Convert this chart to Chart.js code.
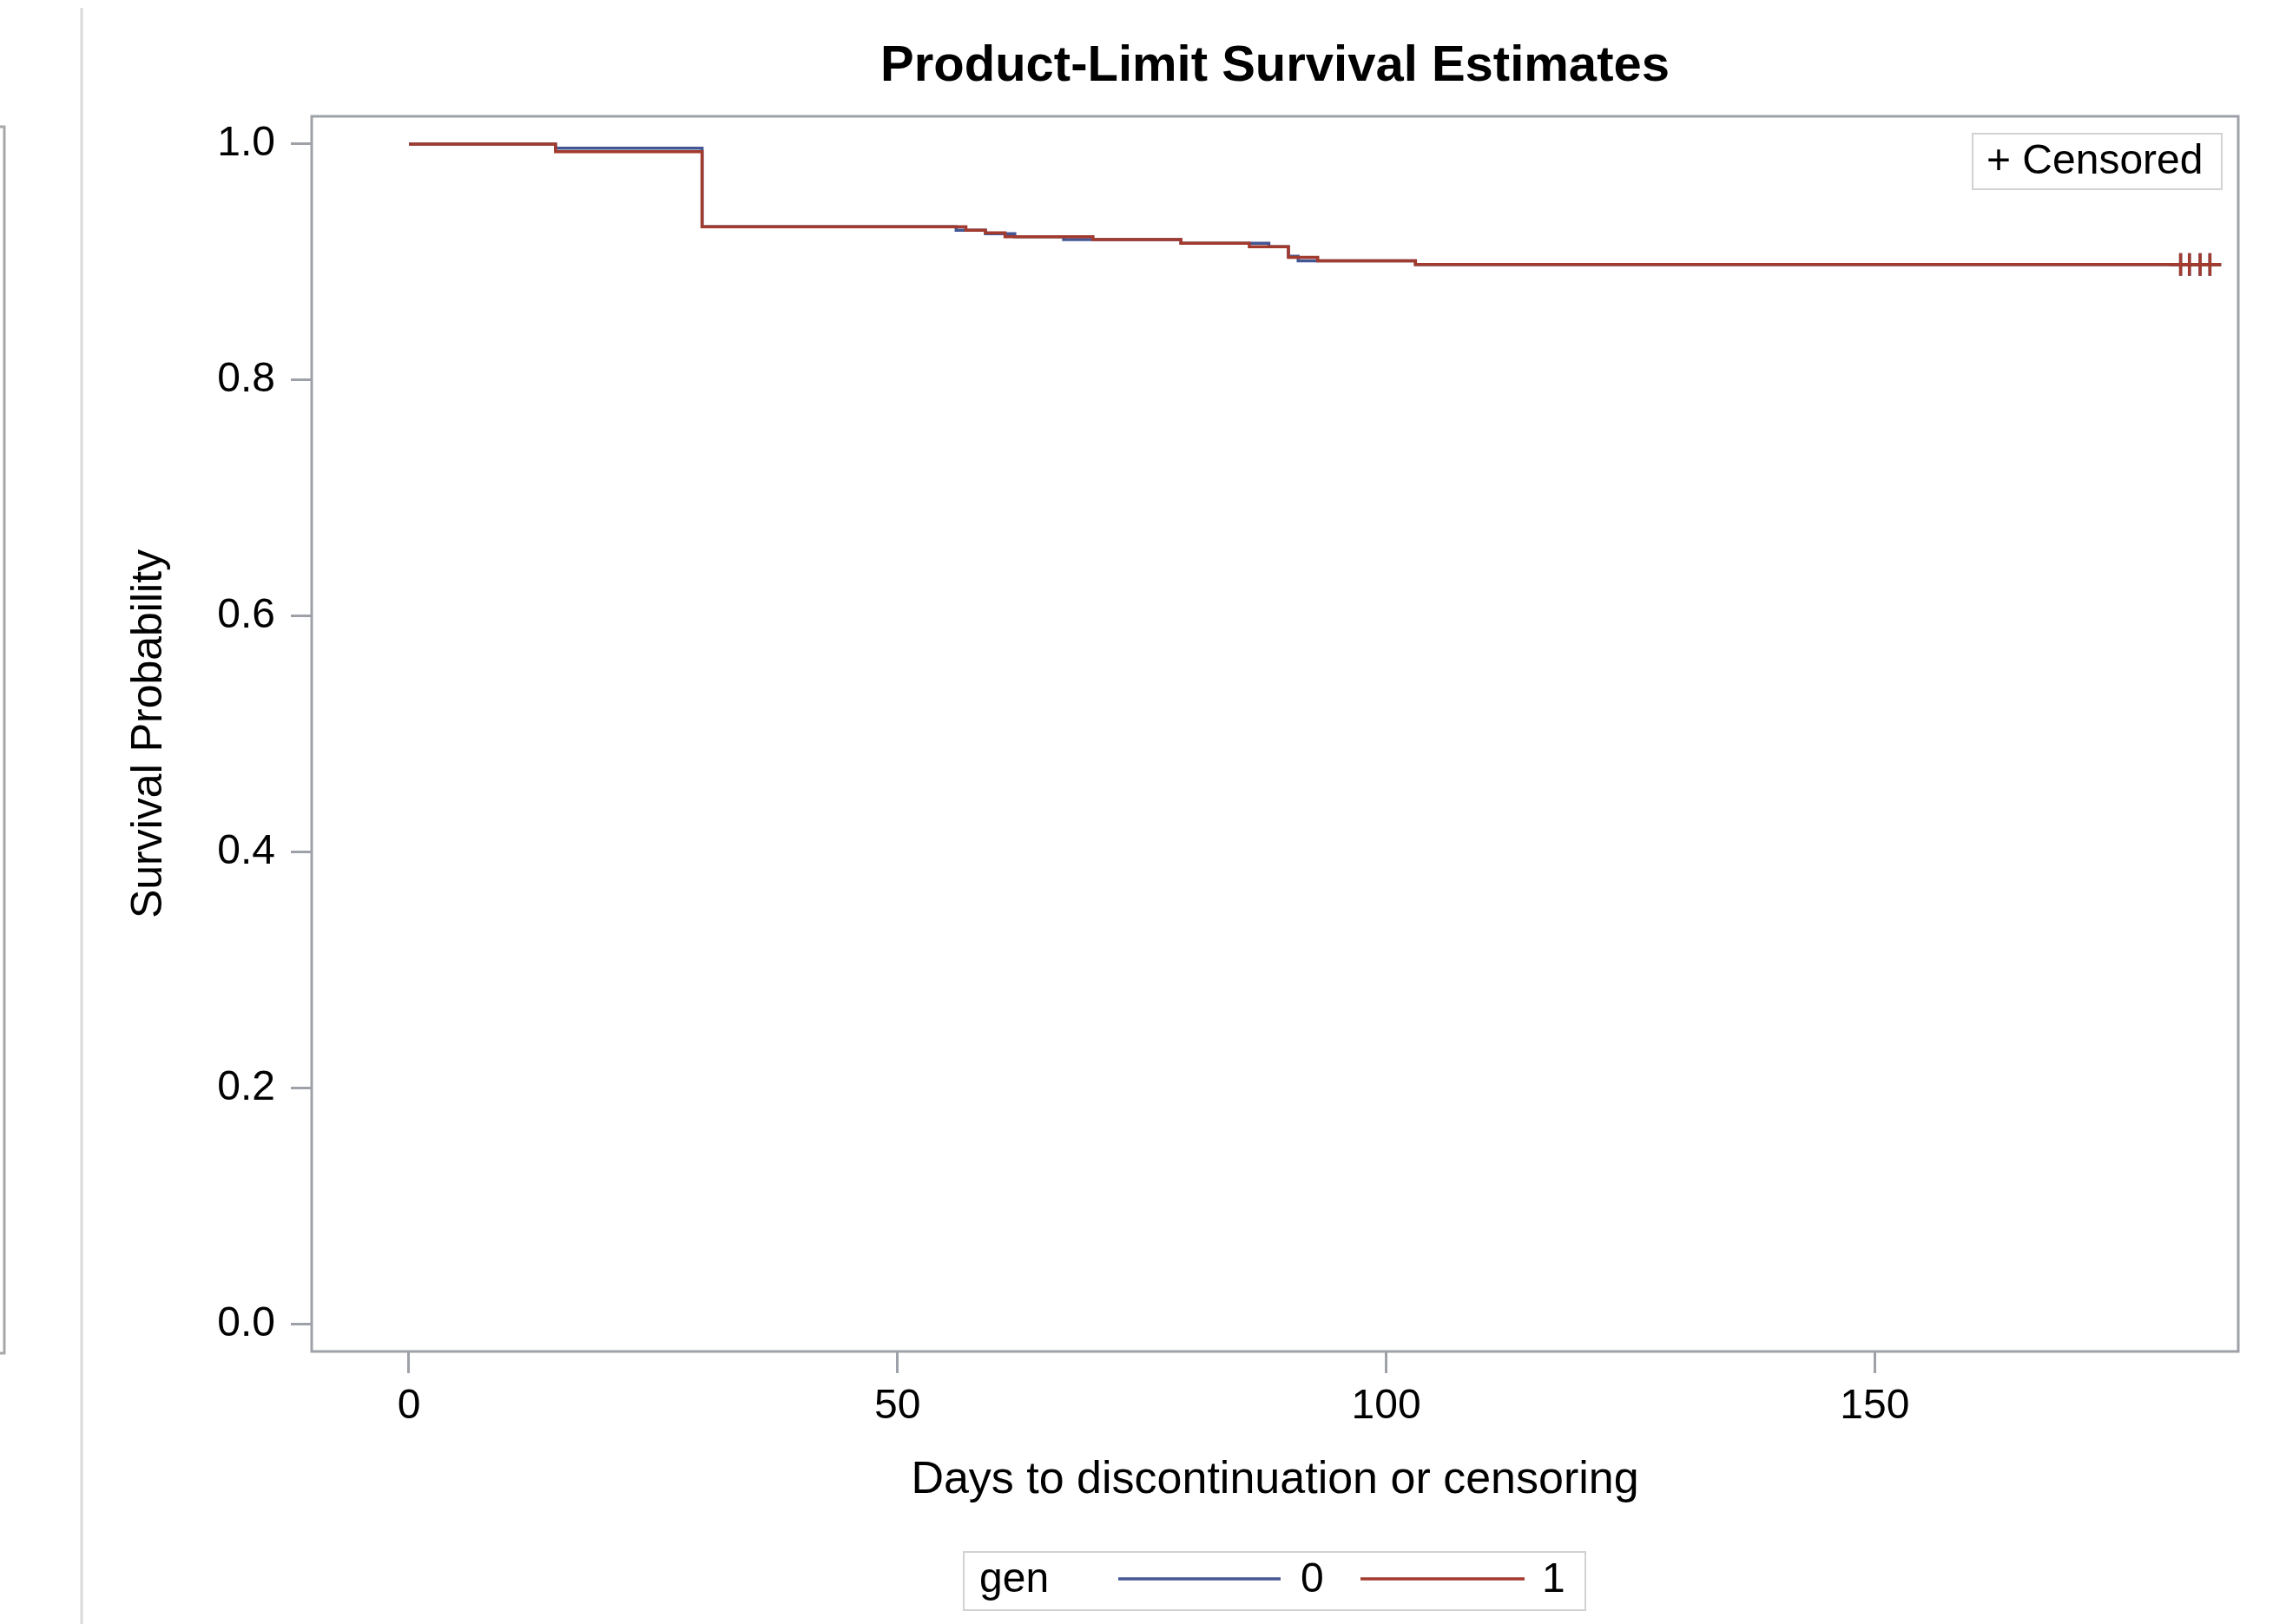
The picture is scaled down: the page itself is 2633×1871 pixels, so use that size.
<!DOCTYPE html>
<html>
<head>
<meta charset="utf-8">
<script src="https://cdn.jsdelivr.net/npm/chart.js@4.4.1/dist/chart.umd.min.js"></script>
<style>
  body { margin: 0; background: #fff; }
  #wrap { width: 2633px; height: 1871px; }
</style>
</head>
<body>
<div id="wrap"><canvas id="kmChart" width="2633" height="1871"></canvas></div>
<script>
// Kaplan-Meier step values (days, survival)
const groupNames = ['0', '1'];
const days0 = [0, 15, 30, 56, 59, 62, 67, 79, 88, 90, 91, 103, 185.4];
const surv0 = [1.0, 0.9965, 0.930, 0.927, 0.924, 0.9215, 0.919, 0.916, 0.913, 0.905, 0.901, 0.898, 0.898];
const days1 = [0, 15, 30, 57, 59, 61, 70, 79, 86, 90, 93, 103, 185.4];
const surv1 = [1.0, 0.9935, 0.930, 0.927, 0.9247, 0.9215, 0.919, 0.916, 0.913, 0.904, 0.901, 0.898, 0.898];
const censorDays = [181.3, 182.2, 183.3, 184.3];
const censorSurv = [0.898, 0.898, 0.898, 0.898];
const xTicks = [0, 50, 100, 150];
const yTicks = [0.0, 0.2, 0.4, 0.6, 0.8, 1.0];

const blue = '#445694';
const red = '#a23a2e';
const axisGray = '#9ea2a8';
const boxGray = '#d2d2d2';
const fontFamily = "'Liberation Sans', Arial, sans-serif";

function pts(xs, ys) {
    return xs.map((x, i) => ({ x: x, y: ys[i] }));
}

// frame, title, side decorations and the two legends
const kmDecor = {
    id: 'kmDecor',
    beforeDraw(chart) {
        const ctx = chart.ctx;
        ctx.save();
        ctx.fillStyle = '#fff';
        ctx.fillRect(0, 0, chart.width, chart.height);
        // left panel leftovers
        ctx.strokeStyle = '#dadada';
        ctx.lineWidth = 3;
        ctx.beginPath();
        ctx.moveTo(94, 9);
        ctx.lineTo(94, chart.height);
        ctx.stroke();
        ctx.strokeStyle = '#a8a8a8';
        ctx.beginPath();
        ctx.moveTo(0, 146);
        ctx.lineTo(5, 146);
        ctx.lineTo(5, 1559);
        ctx.lineTo(0, 1559);
        ctx.stroke();
        ctx.restore();
    },
    afterDraw(chart) {
        const ctx = chart.ctx;
        const a = chart.chartArea;
        ctx.save();
        ctx.strokeStyle = axisGray;
        ctx.lineWidth = 3;
        ctx.strokeRect(a.left, a.top, a.right - a.left, a.bottom - a.top);

        // title, centred over the plot area
        ctx.fillStyle = '#000';
        ctx.textBaseline = 'middle';
        ctx.textAlign = 'center';
        ctx.font = 'bold 58px ' + fontFamily;
        ctx.fillText('Product-Limit Survival Estimates', (a.left + a.right) / 2, 77);

        ctx.font = '48px ' + fontFamily;
        ctx.textAlign = 'left';

        // censored legend, top right
        ctx.strokeStyle = boxGray;
        ctx.lineWidth = 2;
        ctx.strokeRect(2272, 154, 287, 64);
        ctx.fillText('+ Censored', 2288, 187);

        // group legend, bottom
        ctx.strokeRect(1110, 1788, 716, 67);
        ctx.fillText('gen', 1128, 1821);
        ctx.lineWidth = 3.5;
        ctx.strokeStyle = blue;
        ctx.beginPath();
        ctx.moveTo(1288, 1819);
        ctx.lineTo(1475, 1819);
        ctx.stroke();
        ctx.fillText(groupNames[0], 1498, 1821);
        ctx.strokeStyle = red;
        ctx.beginPath();
        ctx.moveTo(1567, 1819);
        ctx.lineTo(1756, 1819);
        ctx.stroke();
        ctx.fillText(groupNames[1], 1776, 1821);
        ctx.restore();
    }
};

const ctx = document.getElementById('kmChart').getContext('2d');
const kmChart = new Chart(ctx, {
    type: 'scatter',
    data: {
        datasets: [{
            label: 'censored 1',
            data: pts(censorDays, censorSurv),
            showLine: false,
            pointStyle: 'cross',
            pointRadius: 13,
            pointBorderWidth: 3.5,
            pointBorderColor: red,
            order: 0
        }, {
            label: groupNames[1],
            data: pts(days1, surv1),
            showLine: true,
            stepped: 'before',
            borderColor: red,
            borderWidth: 3.5,
            pointRadius: 0,
            order: 1
        }, {
            label: 'censored 0',
            data: pts(censorDays, censorSurv),
            showLine: false,
            pointStyle: 'cross',
            pointRadius: 13,
            pointBorderWidth: 3.5,
            pointBorderColor: blue,
            order: 2
        }, {
            label: groupNames[0],
            data: pts(days0, surv0),
            showLine: true,
            stepped: 'before',
            borderColor: blue,
            borderWidth: 3.5,
            pointRadius: 0,
            order: 3
        }]
    },
    options: {
        responsive: false,
        animation: false,
        layout: { padding: { left: 0, right: 55, top: 134, bottom: 0 } },
        plugins: {
            legend: { display: false },
            tooltip: { enabled: false },
            title: { display: false }
        },
        scales: {
            x: {
                type: 'linear',
                min: -9.95,
                max: 187.2,
                afterFit: function (scale) { scale.height = 314; },
                afterBuildTicks: function (scale) {
                    scale.ticks = xTicks.map(v => ({ value: v }));
                },
                border: { display: false },
                grid: { drawOnChartArea: false, drawTicks: true, tickLength: 25, color: axisGray, lineWidth: 3 },
                ticks: {
                    color: '#000',
                    padding: 10,
                    maxRotation: 0,
                    font: { family: fontFamily, size: 48 }
                },
                title: {
                    display: true,
                    text: 'Days to discontinuation or censoring',
                    color: '#000',
                    font: { family: fontFamily, size: 52, lineHeight: 1.2 },
                    padding: { top: 0, bottom: 134 }
                }
            },
            y: {
                type: 'linear',
                min: -0.0228,
                max: 1.0235,
                afterFit: function (scale) { scale.width = 359; },
                afterBuildTicks: function (scale) {
                    scale.ticks = yTicks.map(v => ({ value: v }));
                },
                border: { display: false },
                grid: { drawOnChartArea: false, drawTicks: true, tickLength: 24, color: axisGray, lineWidth: 3 },
                ticks: {
                    color: '#000',
                    padding: 18,
                    font: { family: fontFamily, size: 48 },
                    callback: function (v) { return v.toFixed(1); }
                },
                title: {
                    display: true,
                    text: 'Survival Probability',
                    color: '#000',
                    font: { family: fontFamily, size: 50, lineHeight: 1.2 },
                    padding: { top: 142, bottom: 0 }
                }
            }
        }
    },
    plugins: [kmDecor]
});
</script>
</body>
</html>
